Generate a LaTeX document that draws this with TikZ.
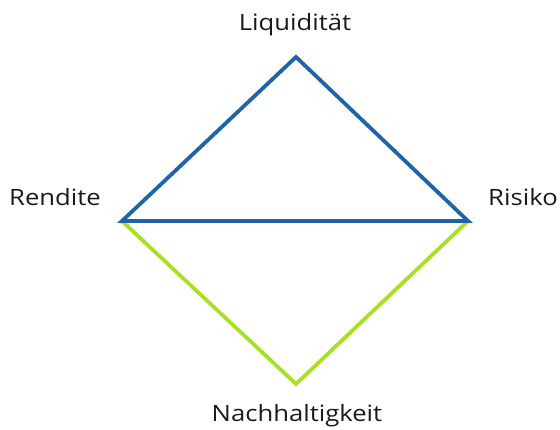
\documentclass[tikz,border=0pt]{standalone}
\usepackage{fontspec}
\setmainfont{Open Sans}
\definecolor{edgeblue}{HTML}{1F64A6}
\definecolor{edgegreen}{HTML}{A6E222}
\definecolor{txt}{HTML}{1A1A1A}
\tikzset{
  lbl/.style={inner sep=0pt, anchor=base, font=\fontsize{22.5}{26}\selectfont, text=txt},
  blueline/.style={draw=edgeblue, line width=3.8pt, line join=miter},
  greenline/.style={draw=edgegreen, line width=3.8pt, line join=miter},
}
\newcommand{\wide}[1]{\scalebox{1.14}[1]{#1}}
\begin{document}
\begin{tikzpicture}[x=1pt,y=1pt]
\useasboundingbox (0,0) rectangle (560,430);
\coordinate (T) at (296,373);
\coordinate (L) at (122,209);
\coordinate (R) at (468,209);
\coordinate (B) at (296,46);
\draw[greenline] (L) -- (B) -- (R);
\draw[blueline] (L) -- (T) -- (R) -- cycle;
\node[lbl] (liq) at (295,399) {\wide{Liquidität}};
\node[lbl] (ren) at (55,224) {\wide{Rendite}};
\node[lbl] (ris) at (523,224) {\wide{Risiko}};
\node[lbl] (nach) at (297,8) {\wide{Nachhaltigkeit}};
\end{tikzpicture}
\end{document}
